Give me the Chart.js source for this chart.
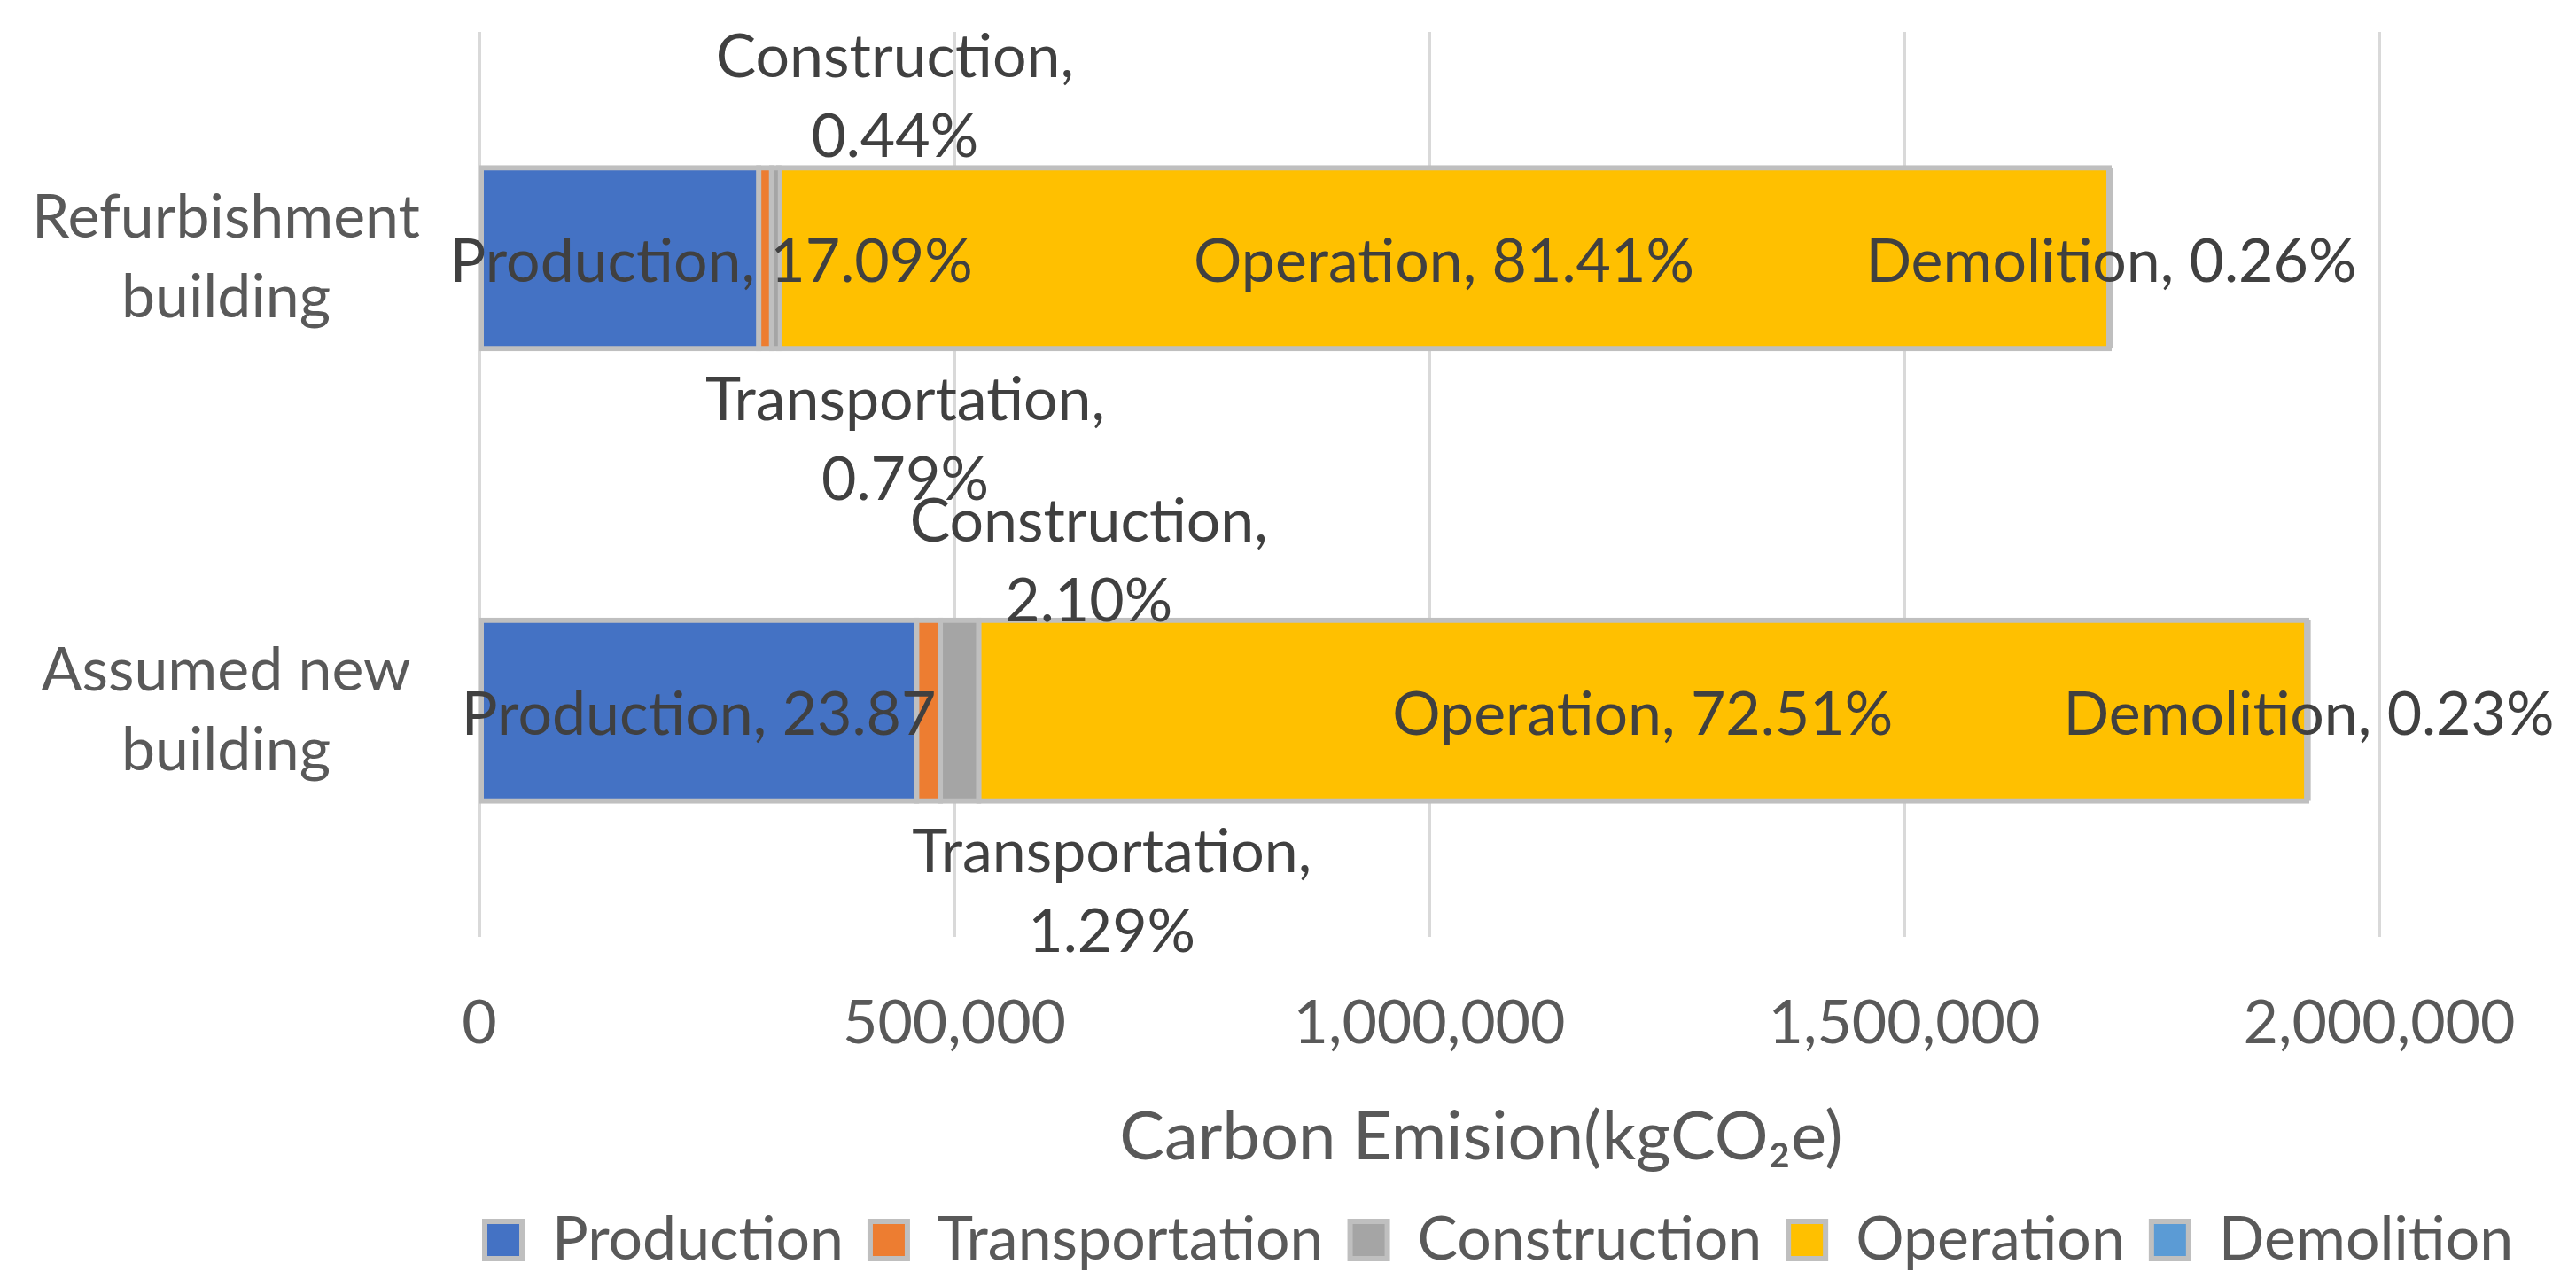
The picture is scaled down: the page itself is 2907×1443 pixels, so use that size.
<!DOCTYPE html>
<html>
<head>
<meta charset="utf-8">
<script src="https://cdn.jsdelivr.net/npm/chart.js@4.4.1/dist/chart.umd.min.js"></script>
<style>
  html, body { margin: 0; padding: 0; background: #fff; }
  canvas { display: block; }
</style>
</head>
<body>
<canvas id="lifeCycleChart" width="2907" height="1443" style="width:2907px;height:1443px"></canvas>
<script>
// categories (top to bottom) and stages
const categories = [['Refurbishment', 'building'], ['Assumed new', 'building']];
const stages = ['Production', 'Transportation', 'Construction', 'Operation', 'Demolition'];

// carbon emission per stage, kgCO2e, [refurbishment, assumed new]
const production = [294000, 460200];
const transportation = [13600, 24900];
const construction = [7600, 40500];
const operation = [1400300, 1398000];
const demolition = [4500, 4400];

// share of the total, % (as printed on the labels)
const refurbishmentShare = [17.09, 0.79, 0.44, 81.41, 0.26];
const newBuildingShare = [23.87, 1.29, 2.10, 72.51, 0.23];

const xTicks = [0, 500000, 1000000, 1500000, 2000000];

const stageColors = ['#4472C4', '#ED7D31', '#A5A5A5', '#FFC000', '#5B9BD5'];
const fontFamily = 'Lato';
const textGrey = '#595959';
const labelGrey = '#404040';

// where each data label sits relative to its segment centre (px); wrap = two lines
const labelPlacement = [
  [{dx: 103, dy: 5}, {dx: 158, dy: 206, wrap: true}, {dx: 135, dy: -181, wrap: true}, {dx: 0, dy: 5}, {dx: 0, dy: 5}],
  [{dx: 0, dy: 5, noPct: true}, {dx: 207, dy: 205, wrap: true}, {dx: 146, dy: -168, wrap: true}, {dx: 0, dy: 5}, {dx: 0, dy: 5}]
];

const series = [production, transportation, construction, operation, demolition];
const shares = [refurbishmentShare, newBuildingShare];

// centre the category labels at a fixed spot in the left margin
const measureCtx = document.createElement('canvas').getContext('2d');
measureCtx.font = '68px ' + fontFamily;
const widestCat = Math.max(...categories.flat().map(t => measureCtx.measureText(t).width));
const catPadding = Math.max(0, 541 - 255 - widestCat / 2);

const dataLabels = {
  id: 'dataLabels',
  afterDatasetsDraw(chart) {
    const ctx = chart.ctx;
    ctx.save();
    ctx.font = '68px ' + fontFamily;
    ctx.fillStyle = labelGrey;
    ctx.textAlign = 'center';
    ctx.textBaseline = 'middle';
    chart.data.datasets.forEach((ds, i) => {
      const meta = chart.getDatasetMeta(i);
      meta.data.forEach((bar, j) => {
        const place = labelPlacement[j][i];
        const pct = shares[j][i].toFixed(2) + (place.noPct ? '' : '%');
        const cx = (bar.x + bar.base) / 2 + place.dx;
        const cy = bar.y + place.dy;
        if (place.wrap) {
          ctx.fillText(ds.label + ',', cx, cy - 45);
          ctx.fillText(pct, cx, cy + 45);
        } else {
          ctx.fillText(ds.label + ', ' + pct, cx, cy);
        }
      });
    });
    ctx.restore();
  }
};

// legend starts under the left edge of the plot, as in the original
const legendShift = {
  id: 'legendShift',
  afterLayout(chart) {
    const lg = chart.legend;
    const pad = lg.options.labels.padding;
    const w = lg.right - lg.left;
    lg.left = chart.chartArea.left + 6 - pad;
    lg.right = lg.left + w;
  }
};

new Chart(document.getElementById('lifeCycleChart'), {
  type: 'bar',
  data: {
    labels: categories,
    datasets: series.map((vals, i) => ({
      label: stages[i],
      data: vals,
      backgroundColor: stageColors[i],
      borderColor: '#BFBFBF',
      borderWidth: 6,
      borderSkipped: false,
      inflateAmount: i === 4 ? 0 : 3,
      barPercentage: 0.4,
      categoryPercentage: 1.0
    }))
  },
  options: {
    indexAxis: 'y',
    responsive: false,
    animation: false,
    devicePixelRatio: 1,
    layout: { padding: { top: 36, right: 222, bottom: 0, left: 0 } },
    scales: {
      x: {
        stacked: true,
        min: xTicks[0],
        max: xTicks[xTicks.length - 1],
        afterBuildTicks: s => { s.ticks = xTicks.map(v => ({ value: v })); },
        afterFit: s => { s.height = 278; s.paddingLeft = 0; s.paddingRight = 0; },
        ticks: {
          color: textGrey,
          padding: 57,
          font: { family: fontFamily, size: 68 },
          callback: v => v.toLocaleString('en-US')
        },
        grid: { color: '#D9D9D9', lineWidth: 4, drawTicks: false },
        border: { display: false },
        title: {
          display: true,
          text: '      Carbon Emision(kgCO\u2082e)',
          color: textGrey,
          padding: { top: 0, bottom: 6 },
          font: { family: fontFamily, size: 76 }
        }
      },
      y: {
        stacked: true,
        afterFit: s => { s.width = 541; s.paddingTop = 0; s.paddingBottom = 0; },
        ticks: {
          color: textGrey,
          crossAlign: 'center',
          padding: catPadding,
          font: { family: fontFamily, size: 68, lineHeight: 1.32 }
        },
        grid: { display: false, drawTicks: false },
        border: { display: false }
      }
    },
    plugins: {
      legend: {
        position: 'bottom',
        align: 'start',
        labels: {
          color: textGrey,
          boxWidth: 42,
          boxHeight: 42,
          padding: 30,
          font: { family: fontFamily, size: 68 }
        }
      },
      tooltip: { enabled: false }
    }
  },
  plugins: [dataLabels, legendShift]
});
</script>
</body>
</html>
